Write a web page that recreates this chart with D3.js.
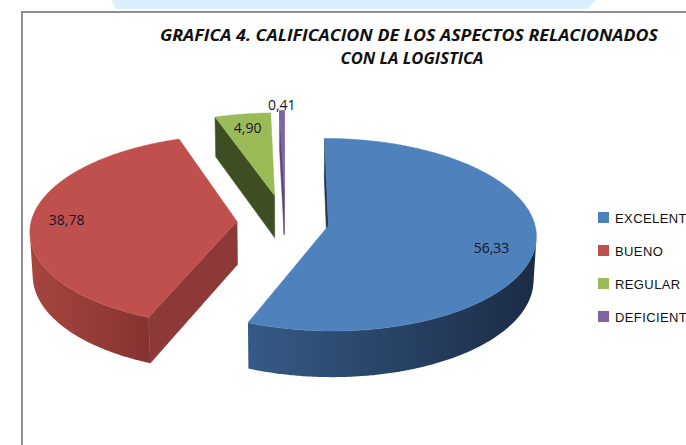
<!DOCTYPE html>
<meta charset="utf-8">
<script src="https://d3js.org/d3.v7.min.js"></script>
<style>
body { margin: 0; background: #fff; }
svg { display: block; }
</style>
<body>
<div id="chart"></div>
<script>
// data
var categories = ['EXCELENTE', 'BUENO', 'REGULAR', 'DEFICIENTE'];
var values = [56.33, 38.78, 4.90, 0.41];
var valueLabels = ['56,33', '38,78', '4,90', '0,41'];
var titleLines = ['GRAFICA 4. CALIFICACION DE LOS ASPECTOS RELACIONADOS', 'CON LA LOGISTICA'];

// styles
var topColors = ['#4F81BD', '#C0504D', '#9BBB59', '#8064A2'];
var sideLight = ['#365A86', '#A6463F', '#4E6129', '#6A5288'];
var sideDark = ['#1B2C45', '#853331', '#36421E', '#4B3A63'];
var radialColors = ['#1F3350', '#8C3937', '#3F4D22', '#5A4578'];
var explode = [44, 48, 60, 66];
var labelRadius = [0.79, 0.83, 0.83, 1.08];
var labelDrop = [7, 0, 0, 0];

var width = 686, height = 445;
var cx = 285, cy = 222;
var R = 206, H = 49, SIN = 0.46, COS = Math.sqrt(1 - SIN * SIN), DIST = 2000;
var camY = DIST * SIN, camZ = -DIST * COS;

var svg = d3.select('#chart').append('svg')
  .attr('width', width)
  .attr('height', height);

// faint band at the very top of the page
svg.append('path')
  .attr('d', 'M111,0 L596,0 L587,9 L116,9 Z')
  .attr('fill', '#DCEDFB');

// frame of the chart area
svg.append('path')
  .attr('d', 'M22,' + height + ' L22,12 L' + width + ',12')
  .attr('fill', 'none')
  .attr('stroke', '#8f8f8f')
  .attr('stroke-width', 2);

// title
svg.selectAll('text.title')
  .data(titleLines)
  .enter().append('text')
  .attr('class', 'title')
  .attr('x', function(d, i) { return i == 0 ? 409 : 412; })
  .attr('y', function(d, i) { return 35 + i * 23; })
  .attr('dominant-baseline', 'central')
  .attr('text-anchor', 'middle')
  .attr('textLength', function(d, i) { return i == 0 ? 498 : 143; })
  .attr('lengthAdjust', 'spacingAndGlyphs')
  .style('font-family', '"Open Sans", sans-serif')
  .style('font-weight', 'bold')
  .style('font-style', 'italic')
  .style('font-size', '16px')
  .style('fill', '#111')
  .text(function(d) { return d; });

// simple 3d projection: X right, Y up, Z away from viewer
function project(p) {
  var sy = -(p[1] * COS + p[2] * SIN);
  var d = p[2] * COS - p[1] * SIN;
  var f = DIST / (DIST + d);
  return [cx + p[0] * f, cy + sy * f];
}
function facing(n, p) {
  return n[0] * (0 - p[0]) + n[1] * (camY - p[1]) + n[2] * (camZ - p[2]) > 0;
}

var pie = d3.pie().sort(null).value(function(d) { return d; });
var arcs = pie(values);
var line = d3.line();
var defs = svg.append('defs');

var slices = arcs.map(function(a, i) {
  var m = (a.startAngle + a.endAngle) / 2;
  return {i: i, a0: a.startAngle, a1: a.endAngle, m: m,
          ox: explode[i] * Math.sin(m), oz: explode[i] * Math.cos(m)};
});
// far slices first
slices.sort(function(a, b) { return b.oz - a.oz; });

var g = svg.append('g');

slices.forEach(function(s) {
  var i = s.i;
  function rim(a, y) { return [s.ox + R * Math.sin(a), y, s.oz + R * Math.cos(a)]; }
  var steps = Math.max(2, Math.ceil((s.a1 - s.a0) / (Math.PI / 360)));
  var angles = d3.range(steps + 1).map(function(k) { return s.a0 + (s.a1 - s.a0) * k / steps; });
  var cTop = [s.ox, 0, s.oz], cBot = [s.ox, -H, s.oz], cMid = [s.ox, -H / 2, s.oz];

  var grad = defs.append('linearGradient').attr('id', 'side' + i)
    .attr('x1', 0).attr('x2', 1).attr('y1', 0).attr('y2', 0);
  grad.append('stop').attr('offset', 0).attr('stop-color', sideLight[i]);
  grad.append('stop').attr('offset', 1).attr('stop-color', sideDark[i]);

  // radial faces
  var radial = [
    {a: s.a0, n: [-Math.cos(s.a0), 0, Math.sin(s.a0)]},
    {a: s.a1, n: [Math.cos(s.a1), 0, -Math.sin(s.a1)]}
  ];
  radial.forEach(function(r) {
    if (!facing(r.n, cMid)) return;
    var pts = [cTop, rim(r.a, 0), rim(r.a, -H), cBot].map(project);
    g.append('path')
      .attr('d', line(pts) + 'Z')
      .attr('fill', radialColors[i])
      .attr('stroke', radialColors[i])
      .attr('stroke-width', 0.5);
  });

  // outer curved side, only the part that faces the viewer
  var runs = [], cur = null;
  angles.forEach(function(a) {
    var vis = facing([Math.sin(a), 0, Math.cos(a)], rim(a, -H / 2));
    if (vis) { if (!cur) { cur = []; runs.push(cur); } cur.push(a); }
    else cur = null;
  });
  runs.forEach(function(run) {
    if (run.length < 2) return;
    var topPts = run.map(function(a) { return project(rim(a, 0)); });
    var botPts = run.slice().reverse().map(function(a) { return project(rim(a, -H)); });
    g.append('path')
      .attr('d', line(topPts.concat(botPts)) + 'Z')
      .attr('fill', 'url(#side' + i + ')');
  });

  // top face
  var topPts = [project(cTop)].concat(angles.map(function(a) { return project(rim(a, 0)); }));
  g.append('path')
    .attr('d', line(topPts) + 'Z')
    .attr('fill', topColors[i])
    .attr('stroke', topColors[i])
    .attr('stroke-width', 0.5);
});

// value labels
slices.forEach(function(s) {
  var r = labelRadius[s.i] * R;
  var p = project([s.ox + r * Math.sin(s.m), 0, s.oz + r * Math.cos(s.m)]);
  svg.append('text')
    .attr('x', p[0])
    .attr('y', p[1] + labelDrop[s.i])
    .attr('text-anchor', 'middle')
    .attr('dominant-baseline', 'central')
    .style('font-family', '"Open Sans", sans-serif')
    .style('font-size', '14px')
    .style('fill', '#14142a')
    .text(valueLabels[s.i]);
});

// legend
var legend = svg.append('g').attr('transform', 'translate(598,212)');
var item = legend.selectAll('g')
  .data(categories)
  .enter().append('g')
  .attr('transform', function(d, i) { return 'translate(0,' + (i * 33) + ')'; });
item.append('rect')
  .attr('width', 11)
  .attr('height', 11)
  .attr('fill', function(d, i) { return topColors[i]; });
item.append('text')
  .attr('x', 17)
  .attr('y', 6)
  .attr('dominant-baseline', 'central')
  .style('font-family', '"Liberation Sans", Arial, sans-serif')
  .style('font-size', '13px')
  .style('letter-spacing', '0.4px')
  .style('fill', '#111')
  .text(function(d) { return d; });
</script>
</body>
